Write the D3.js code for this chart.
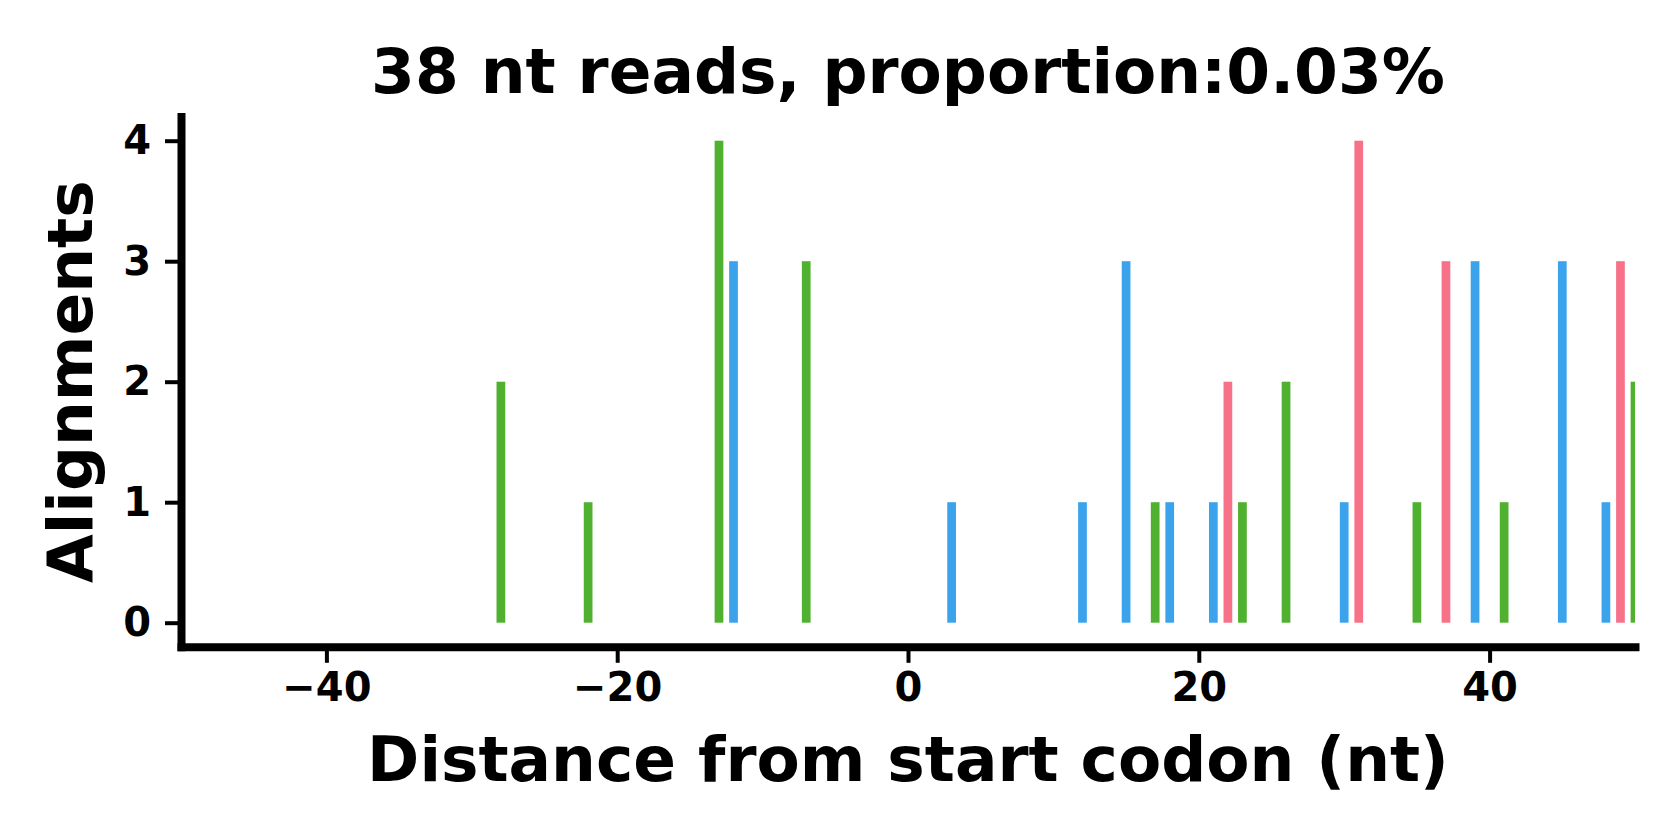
<!DOCTYPE html>
<html>
<head>
<meta charset="utf-8">
<script src="https://cdn.jsdelivr.net/npm/d3@7"></script>
<style>
  body { margin: 0; background: #fff; }
  svg text { font-family: "DejaVu Sans", sans-serif; font-weight: bold; fill: #000; }
  .axis .domain { stroke: #000; stroke-width: 8; stroke-linecap: square; }
  .axis .tick line { stroke: #000; stroke-width: 4; }
  .axis .tick text { font-size: 40px; }
</style>
</head>
<body>
<div id="chart"></div>
<script>
// Datos: posiciones (nt) y numero de lecturas por marco de lectura
const frame0Pos = [-12, 3, 12, 15, 18, 21, 30, 39, 45, 48];
const frame0Val = [3, 1, 1, 3, 1, 1, 1, 3, 3, 1];
const frame1Pos = [22, 31, 37, 49];
const frame1Val = [2, 4, 3, 3];
const frame2Pos = [-28, -22, -13, -7, 17, 23, 26, 35, 41, 50];
const frame2Val = [2, 1, 4, 3, 1, 1, 2, 1, 1, 2];

const xTicks = [-40, -20, 0, 20, 40];
const yTicks = [0, 1, 2, 3, 4];

const COLOR_FRAME_0 = '#3ba3ec',
    COLOR_FRAME_1 = '#f77189',
    COLOR_FRAME_2 = '#50b131';

const titleText = '38 nt reads, proportion:0.03%';
const xLabel = 'Distance from start codon (nt)';
const yLabel = 'Alignments';

//Medidas
let width = 1680, height = 840;
let margin = {top: 116.6, right: 45, bottom: 193.2, left: 181};

let svg = d3.select('#chart')
    .append('svg')
        .attr('width', width)
        .attr('height', height);

let x = d3.scaleLinear()
    .domain([-50, 50])
    .range([margin.left, width - margin.right]);

let y = d3.scaleLinear()
    .domain([-0.2, 4.2])
    .range([height - margin.bottom, margin.top]);

//Recorte al area de los ejes
svg.append('clipPath')
    .attr('id', 'plot-clip')
    .append('rect')
        .attr('x', x(-50))
        .attr('y', y(4.2))
        .attr('width', x(50) - x(-50))
        .attr('height', y(-0.2) - y(4.2));

let frames = [
    {pos: frame0Pos, val: frame0Val, color: COLOR_FRAME_0},
    {pos: frame1Pos, val: frame1Val, color: COLOR_FRAME_1},
    {pos: frame2Pos, val: frame2Val, color: COLOR_FRAME_2}
];

let barW = 0.6;

let bars = svg.append('g').attr('clip-path', 'url(#plot-clip)');

frames.forEach(function(f) {
    let data = f.pos.map(function(p, i) { return {pos: p, val: f.val[i]}; });
    bars.append('g')
        .attr('fill', f.color)
        .selectAll('rect')
        .data(data)
        .enter()
        .append('rect')
        .attr('x', function(d) { return x(d.pos - barW / 2); })
        .attr('width', function(d) { return x(d.pos + barW / 2) - x(d.pos - barW / 2); })
        .attr('y', function(d) { return y(d.val); })
        .attr('height', function(d) { return y(0) - y(d.val); });
});

//Ejes
svg.append('g')
    .attr('class', 'axis x-axis')
    .attr('transform', 'translate(0,' + y(-0.2) + ')')
    .call(d3.axisBottom(x).tickValues(xTicks).tickFormat(d3.format('d')).tickSize(16).tickSizeOuter(0).tickPadding(10));

svg.append('g')
    .attr('class', 'axis y-axis')
    .attr('transform', 'translate(' + x(-50) + ',0)')
    .call(d3.axisLeft(y).tickValues(yTicks).tickFormat(d3.format('d')).tickSize(16).tickSizeOuter(0).tickPadding(14));

//Titulo y etiquetas
svg.append('text')
    .attr('x', (x(-50) + x(50)) / 2)
    .attr('y', 93)
    .attr('text-anchor', 'middle')
    .style('font-size', '63px')
    .text(titleText);

svg.append('text')
    .attr('x', (x(-50) + x(50)) / 2)
    .attr('y', 781)
    .attr('text-anchor', 'middle')
    .style('font-size', '63px')
    .text(xLabel);

svg.append('text')
    .attr('transform', 'translate(92,' + (y(-0.2) + y(4.2)) / 2 + ') rotate(-90)')
    .attr('text-anchor', 'middle')
    .style('font-size', '63px')
    .text(yLabel);
</script>
</body>
</html>
